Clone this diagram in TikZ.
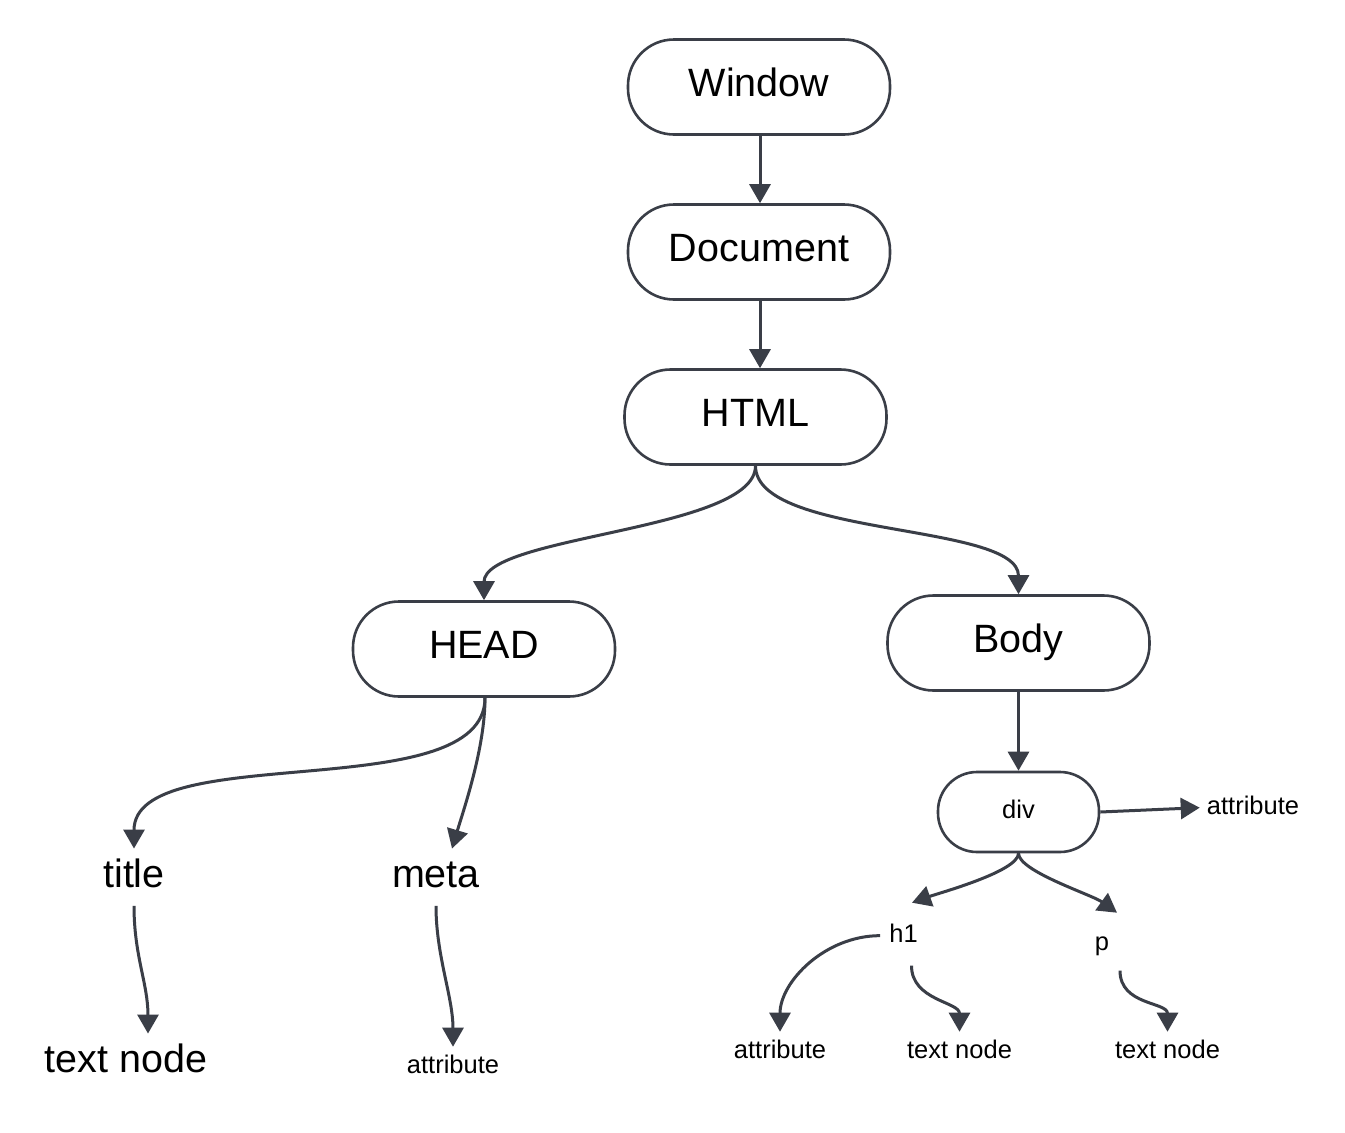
\documentclass[tikz,border=0pt]{standalone}
\usepackage{fontspec}
\setmainfont{Liberation Sans}
\usetikzlibrary{arrows.meta}
\definecolor{ln}{HTML}{3A3E47}
\newcommand\bigf{\fontsize{39.5}{47}\selectfont}
\newcommand\smallf{\fontsize{25.5}{31}\selectfont}
\begin{document}
\begin{tikzpicture}[x=1pt,y=-1pt,
  box/.style={draw=ln, line width=2.6pt, rounded corners=46pt, minimum width=262pt,
    minimum height=95pt, font=\bigf, text height=29.25pt, text depth=9.75pt, inner sep=0pt},
  divbox/.style={box, minimum width=161pt, minimum height=80pt, rounded corners=39pt,
    font=\smallf, text height=19.1pt, text depth=6.4pt},
  tbig/.style={font=\bigf, text height=29.25pt, text depth=9.75pt, inner xsep=0pt, inner ysep=9pt, anchor=base},
  tsmall/.style={font=\smallf, text height=19.1pt, text depth=6.4pt, inner xsep=0pt, inner ysep=7pt, anchor=base},
  conn/.style={draw=ln, line width=3pt, -{Triangle[length=19pt,width=21pt]}}]
\fill[white] (0,0) rectangle (1345,1133);
\useasboundingbox (0,0) rectangle (1345,1133);

\node[box] (win) at (759,87) {Window};
\node[box] (doc) at (759,252) {Document};
\node[box] (html) at (755.5,417) {HTML};
\node[box] (head) at (484,649) {HEAD};
\node[box] (body) at (1018.5,643) {Body};
\node[divbox] (div) at (1018.5,812) {div};

\node[tbig] (title) at (134,887) {title};
\node[tbig] (meta) at (436,887) {meta};
\node[tbig] (tn1) at (126,1072) {text node};
\node[tsmall] (at1) at (453,1073) {attribute};
\node[tsmall] (at0) at (1253,814) {attribute};
\node[tsmall] (h1) at (903.5,942) {h1};
\node[tsmall] (p) at (1102,950) {p};
\node[tsmall] (at2) at (780,1058) {attribute};
\node[tsmall] (tn2) at (959.5,1058) {text node};
\node[tsmall] (tn3) at (1167.5,1058) {text node};

\draw[conn] ([xshift=1pt]win.south) -- ([xshift=1pt]doc.north);
\draw[conn] ([xshift=1pt]doc.south) -- ([xshift=1pt]doc.south |- html.north);
\draw[conn] (html.south) .. controls +(0,65) and +(0,-65) .. (head.north);
\draw[conn] (html.south) .. controls +(0,72) and +(0,-72) .. (body.north);
\draw[conn] ([xshift=1pt]head.south) .. controls +(0,110) and +(0,-110) .. (title.north);
\draw[conn] ([xshift=1pt]head.south) .. controls +(0,50) and +(12,-40) .. ([xshift=16pt]meta.north);
\draw[conn] (title.south) .. controls +(0,50) and +(0,-50) .. ([xshift=22pt]tn1.north);
\draw[conn] (meta.south) .. controls +(0,50) and +(0,-50) .. (at1.north);
\draw[conn] (body.south) -- (div.north);
\draw[conn] (div.east) -- ([xshift=-7pt]at0.west);
\draw[conn] (div.south) .. controls +(0,18) and +(28,-10) .. ([xshift=8.5pt,yshift=13pt]h1.north);
\draw[conn] (div.south) .. controls +(0,18) and +(-25,-18) .. ([xshift=15pt,yshift=11pt]p.north);
\draw[conn] ([xshift=-9pt]h1.west) .. controls +(-55,0) and +(0,-50) .. (at2.north);
\draw[conn] ([xshift=8pt,yshift=-10pt]h1.south) .. controls +(0,35) and +(0,-30) .. (tn2.north);
\draw[conn] ([xshift=18pt,yshift=-7pt]p.south) .. controls +(0,35) and +(0,-30) .. (tn3.north);
\end{tikzpicture}
\end{document}
